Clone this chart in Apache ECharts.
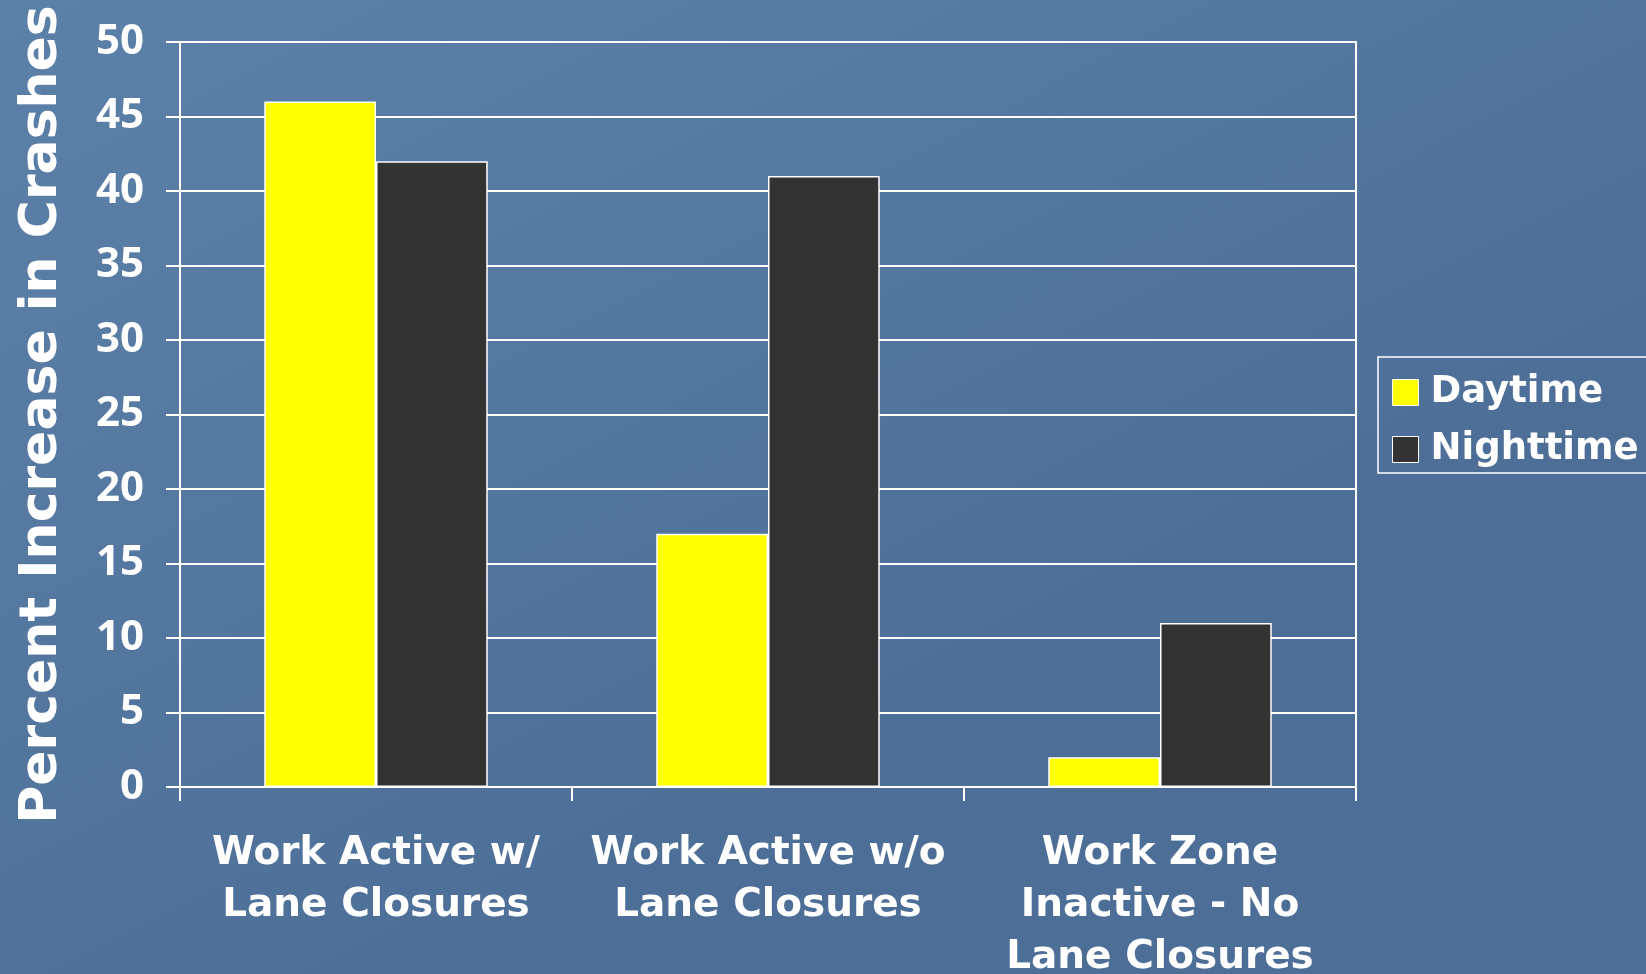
<!DOCTYPE html>
<html>
<head>
<meta charset="utf-8">
<script src="https://cdn.jsdelivr.net/npm/echarts@6/dist/echarts.min.js"></script>
<style>
html,body{margin:0;padding:0;width:1646px;height:974px;overflow:hidden;}
#c{width:1646px;height:974px;}
</style>
</head>
<body>
<div id="c"></div>
<script>
const categories = ["Work Active w/\nLane Closures", "Work Active w/o\nLane Closures", "Work Zone\nInactive - No\nLane Closures"];
const daytime = [46, 17, 2];
const nighttime = [42, 41, 11];
const seriesNames = ["Daytime", "Nighttime"];
const yAxisTitle = "Percent Increase in Crashes";

const chart = echarts.init(document.getElementById('c'));
const txtFont = '"DejaVu Sans", sans-serif';
chart.setOption({
  animation: false,
  backgroundColor: {
    type: 'linear', x: 0, y: 0, x2: 0.3, y2: 1,
    colorStops: [{offset: 0, color: '#5c81a9'}, {offset: 1, color: '#4d6f97'}]
  },
  grid: {left: 180, right: 290, top: 42, bottom: 187, outerBoundsMode: 'none', containLabel: false,
         show: true, borderColor: '#ffffff', borderWidth: 2, backgroundColor: 'transparent'},
  legend: {
    orient: 'vertical', left: 1378, top: 357,
    padding: [17, 30, 5, 14], itemGap: 20,
    itemWidth: 26, itemHeight: 26,
    borderColor: '#ffffff', borderWidth: 1.5,
    icon: 'rect',
    itemStyle: {borderColor: '#ffffff', borderWidth: 1},
    textStyle: {color: '#ffffff', fontFamily: txtFont, fontWeight: 'bold', fontSize: 37, padding: [0, 0, 0, 7]},
    data: seriesNames
  },
  xAxis: {
    type: 'category', data: categories,
    axisLine: {lineStyle: {color: '#ffffff', width: 2}},
    axisTick: {show: true, length: 14, lineStyle: {color: '#ffffff', width: 2}},
    axisLabel: {color: '#ffffff', fontFamily: txtFont, fontWeight: 'bold', fontSize: 39, lineHeight: 52, margin: 41, interval: 0}
  },
  yAxis: {
    type: 'value', min: 0, max: 50, interval: 5,
    name: yAxisTitle, nameLocation: 'middle', nameRotate: 90, nameGap: 112,
    nameTextStyle: {color: '#ffffff', fontFamily: txtFont, fontWeight: 'bold', fontSize: 52},
    axisLine: {show: true, lineStyle: {color: '#ffffff', width: 2}},
    axisTick: {show: true, length: 14, lineStyle: {color: '#ffffff', width: 2}},
    axisLabel: {color: '#ffffff', fontFamily: '"Noto Sans", sans-serif', fontWeight: 'bold', fontSize: 42, margin: 36},
    splitLine: {lineStyle: {color: '#ffffff', width: 2}}
  },
  series: [
    {name: seriesNames[0], type: 'bar', data: daytime, barGap: '0%', barCategoryGap: '43%',
     itemStyle: {color: '#ffff00', borderColor: '#ffffff', borderWidth: 1.5}},
    {name: seriesNames[1], type: 'bar', data: nighttime,
     itemStyle: {color: '#333333', borderColor: '#ffffff', borderWidth: 1.5}}
  ]
});
</script>
</body>
</html>
